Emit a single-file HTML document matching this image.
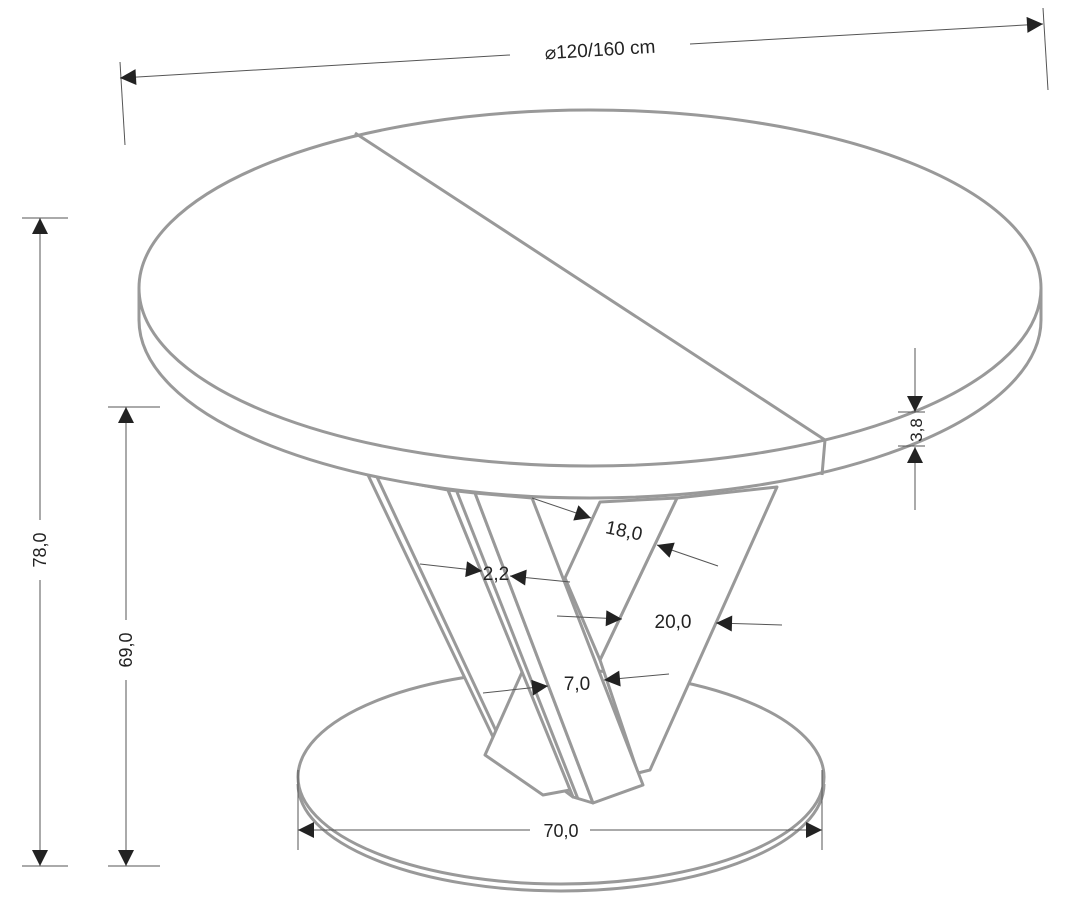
<!DOCTYPE html>
<html><head><meta charset="utf-8"><style>
html,body{margin:0;padding:0;background:#fff}
svg{display:block}
text{font-family:"Liberation Sans",Arial,sans-serif;fill:#222}
</style></head><body>
<svg width="1086" height="900" viewBox="0 0 1086 900" xmlns="http://www.w3.org/2000/svg">
<defs>
<marker id="a" viewBox="0 0 10 10" refX="10" refY="5" markerWidth="28" markerHeight="16" markerUnits="userSpaceOnUse" orient="auto"><path d="M0,0L10,5L0,10z" fill="#222"/></marker>
</defs>
<g fill="none" stroke="#999" stroke-width="3">
<!-- base -->
<path d="M298,784 A263,107 0 0 0 824,784"/>
<ellipse cx="561" cy="777" rx="263" ry="107" fill="#fff"/>
<!-- legs -->
<g fill="#fff" stroke-linejoin="round">
<polygon points="677,498 777,487 650,770 638,773 600,660"/>
<polygon points="600,502 677,498 600,660 565,578"/>
<polygon points="368,475 448,490 573,797 493,737"/>
<line x1="377" y1="477" x2="497" y2="733"/>
<polygon points="523,670 485,755 543,795 570,790 560,760"/>
<polygon points="448,490 475,493 593,803 573,797"/>
<line x1="457" y1="492" x2="578" y2="799"/>
<polygon points="475,493 532,498 643,785 593,803"/>
</g>
<!-- table top -->
<path d="M139,288 L139,320 A451,178 0 0 0 1041,320 L1041,288" fill="#fff"/>
<ellipse cx="590" cy="288" rx="451" ry="178" fill="#fff"/>
<polyline points="355,133 825,440 822,475"/>
</g>
<!-- dimensions -->
<g stroke="#555" stroke-width="1" fill="none">
<line x1="120" y1="62" x2="125" y2="145"/>
<line x1="1043" y1="8" x2="1048" y2="90"/>
<line x1="510" y1="55" x2="120" y2="78" marker-end="url(#a)"/>
<line x1="690" y1="44" x2="1043" y2="24" marker-end="url(#a)"/>
<line x1="22" y1="218" x2="68" y2="218"/>
<line x1="22" y1="866" x2="68" y2="866"/>
<line x1="40" y1="520" x2="40" y2="218" marker-end="url(#a)"/>
<line x1="40" y1="580" x2="40" y2="866" marker-end="url(#a)"/>
<line x1="108" y1="407" x2="160" y2="407"/>
<line x1="108" y1="866" x2="160" y2="866"/>
<line x1="126" y1="620" x2="126" y2="407" marker-end="url(#a)"/>
<line x1="126" y1="680" x2="126" y2="866" marker-end="url(#a)"/>
<line x1="298" y1="770" x2="298" y2="850"/>
<line x1="822" y1="770" x2="822" y2="850"/>
<line x1="530" y1="830" x2="298" y2="830" marker-end="url(#a)"/>
<line x1="590" y1="830" x2="822" y2="830" marker-end="url(#a)"/>
<line x1="915" y1="348" x2="915" y2="412" marker-end="url(#a)"/>
<line x1="915" y1="510" x2="915" y2="447" marker-end="url(#a)"/>
<line x1="898" y1="412" x2="925" y2="412"/>
<line x1="898" y1="446" x2="925" y2="446"/>
<line x1="532" y1="498" x2="591" y2="518" marker-end="url(#a)"/>
<line x1="718" y1="566" x2="657" y2="545" marker-end="url(#a)"/>
<line x1="420" y1="564" x2="482" y2="571" marker-end="url(#a)"/>
<line x1="570" y1="582" x2="510" y2="576" marker-end="url(#a)"/>
<line x1="557" y1="616" x2="622" y2="619" marker-end="url(#a)"/>
<line x1="782" y1="625" x2="716" y2="623" marker-end="url(#a)"/>
<line x1="483" y1="693" x2="548" y2="686" marker-end="url(#a)"/>
<line x1="669" y1="674" x2="604" y2="680" marker-end="url(#a)"/>
</g>
<text x="600" y="56" font-size="19" text-anchor="middle" transform="rotate(-3.5 600 50)">⌀120/160 cm</text>
<text x="0" y="0" font-size="18" text-anchor="middle" transform="translate(46,550) rotate(-90)">78,0</text>
<text x="0" y="0" font-size="18" text-anchor="middle" transform="translate(132,650) rotate(-90)">69,0</text>
<text x="561" y="837" font-size="18" text-anchor="middle">70,0</text>
<text x="0" y="0" font-size="17" text-anchor="middle" transform="translate(922,430) rotate(-90)">3,8</text>
<text x="624" y="537" font-size="19" text-anchor="middle" transform="rotate(12 624 531)">18,0</text>
<text x="496" y="580" font-size="19" text-anchor="middle">2,2</text>
<text x="673" y="628" font-size="19" text-anchor="middle">20,0</text>
<text x="577" y="690" font-size="19" text-anchor="middle">7,0</text>
</svg>
</body></html>
